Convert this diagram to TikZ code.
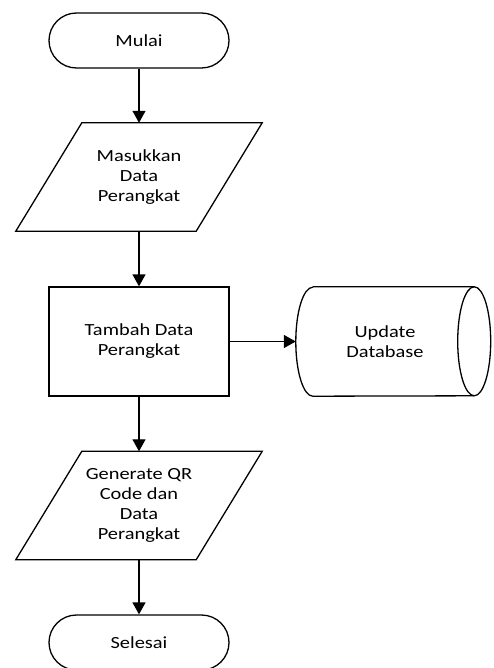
\documentclass[tikz,border=0pt]{standalone}
\usepackage{fontspec}
\setmainfont{Carlito}[FakeStretch=1.2]
\usetikzlibrary{arrows.meta}
\begin{document}
\begin{tikzpicture}[x=1pt,y=1pt,
  every node/.style={font=\fontsize{17}{20}\selectfont, align=center, inner sep=0pt},
  line/.style={line width=1.3pt, draw=black},
  term/.style={line, rounded corners=27.5pt, minimum width=180pt, minimum height=55pt},
  procbox/.style={line, minimum width=180pt, minimum height=109pt},
  ghost/.style={minimum width=180pt, minimum height=108pt},
  conn/.style={line width=1.3pt, -{Triangle[length=12pt,width=13pt]}}
]
\useasboundingbox (0,0) rectangle (494,-668);
\node[term] (start) at (139,-40.5) {Mulai};
\node[ghost] (in1) at (139,-177) {Masukkan\\Data\\Perangkat};
\draw[line] ([xshift=33pt]in1.north west) -- ([xshift=33pt]in1.north east)
  -- ([xshift=-33pt]in1.south east) -- ([xshift=-33pt]in1.south west) -- cycle;
\node[procbox] (proc) at (139,-341.5) {Tambah Data\\Perangkat};
\node[minimum width=178pt, minimum height=109pt] (db) at (385,-341.5) {Update\\Database};
\draw[line] ([xshift=17pt]db.north west) -- (db.north east)
  arc[start angle=90, end angle=-90, x radius=16.5pt, y radius=54.5pt]
  -- ([xshift=17pt]db.south west)
  arc[start angle=270, end angle=90, x radius=17pt, y radius=54.5pt];
\draw[line] (db.north east)
  arc[start angle=90, end angle=270, x radius=16.5pt, y radius=54.5pt];
\node[ghost] (out1) at (139,-505.5) {Generate QR\\Code dan\\Data\\Perangkat};
\draw[line] ([xshift=33pt]out1.north west) -- ([xshift=33pt]out1.north east)
  -- ([xshift=-33pt]out1.south east) -- ([xshift=-33pt]out1.south west) -- cycle;
\node[term] (end) at (139,-642.5) {Selesai};
\draw[conn] (start.south) -- (in1.north);
\draw[conn] (in1.south) -- (proc.north);
\draw[conn] (proc.east) -- (db.west);
\draw[conn] (proc.south) -- (out1.north);
\draw[conn] (out1.south) -- (end.north);
\end{tikzpicture}
\end{document}
